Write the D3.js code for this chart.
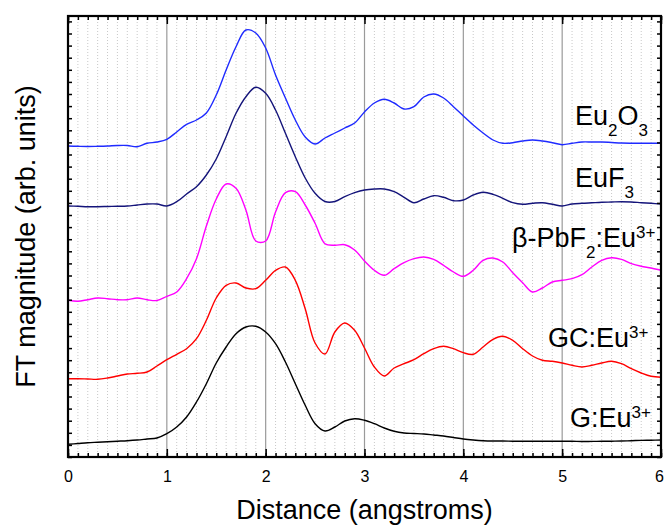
<!DOCTYPE html>
<html>
<head>
<meta charset="utf-8">
<script src="https://cdn.jsdelivr.net/npm/d3@7"></script>
<style>
  html, body { margin: 0; padding: 0; background: #fff; }
  svg { display: block; font-family: "Liberation Sans", Arial, sans-serif; }
</style>
</head>
<body>
<svg id="chart" width="664" height="527"></svg>
<script>
// Distance grid (angstroms)
const distance = [0.0,0.1,0.2,0.3,0.4,0.5,0.6,0.7,0.8,0.9,
  1.0,1.1,1.2,1.3,1.4,1.5,1.6,1.7,1.8,1.9,
  2.0,2.1,2.2,2.3,2.4,2.5,2.6,2.7,2.8,2.9,
  3.0,3.1,3.2,3.3,3.4,3.5,3.6,3.7,3.8,3.9,
  4.0,4.1,4.2,4.3,4.4,4.5,4.6,4.7,4.8,4.9,
  5.0,5.1,5.2,5.3,5.4,5.5,5.6,5.7,5.8,5.9,6.0];

// FT magnitude (arb. units, stacked with offsets as in the figure)
const eu2o3 = [311,310.7,310.5,310.7,311,311.5,311.5,310.3,313.7,315,
  317.7,325,332.7,337,344,362,387,410.3,427,424,
  409,382,359,337,320,313,319,324,329,334,
  345,354,357.7,354,348,350.3,360,363,359,350.3,
  341,332,324,317,313.7,314.3,316,317,316,314.3,
  312.3,313.7,315,315,315,314.5,314,313.8,313.7,313.7,313.7];

const euf3 = [251,250.7,250.3,250.3,250.5,250.7,251,252,253,253,
  251,255.3,263,270.3,282,298,320.3,343.7,360.3,369.7,
  363.7,347,323.7,300.3,279,263.7,255.5,255.5,260.3,264.3,
  267,268,268,265.3,259.7,254.3,258,261.3,259.7,256.3,
  257,262,264.7,262.7,258.7,254.3,252.7,253.7,254.3,252.7,
  251,253,253.7,254.2,254.7,255,255.3,255,254.3,253.7,253];

const pbf2 = [156.7,155.7,157.3,159,158.3,157.3,157.3,159,157.3,156.5,
  160.7,165,178.3,198.3,231,258,273,268.7,247,216,
  216,245,264.3,265.3,252,233.7,213.3,211.7,212.3,207,
  196,186.7,181.7,188.3,194.3,198.3,200,197.7,191.7,185,
  180.7,186.7,196.7,199,195,184.3,174.3,165,169,175,
  176.7,178.3,182.3,190,196.7,199.3,197.7,193.3,190.7,189,186.7];

const gc = [78.3,78.3,78,77.7,79,81,83,83.7,85,91,
  97.3,102.7,108.3,118.3,136.7,159,171.7,174,169,168.3,
  176.7,186.7,190,176.7,148.3,114,103,125,134,126.7,
  109,90,81,89,93.3,97.3,103.3,108.3,110.7,108.3,
  104.3,102.7,110,117.7,120.7,116.7,108.3,101,96.7,95.7,
  94,91.7,90,91.7,94,95.7,93.3,88.3,84,80.7,79.7];

const glass = [12.7,13.5,14.3,14.8,15.3,15.8,16.3,17,18,19,
  23.3,30,40,55,73.3,94,110,123.3,130,130.7,
  125,113.3,95,73.3,51.7,33.3,26,30,36,38.3,
  36.7,33.3,29,25.7,24,23.5,23,22,21,19.5,
  18,17,16.3,16,16,15.8,15.7,15.7,15.7,15.7,
  15.7,15.7,15.5,15.6,15.7,15.8,16,16.3,16.6,16.8,17];

const seriesNames = ["Eu2O3", "EuF3", "β-PbF2:Eu3+", "GC:Eu3+", "G:Eu3+"];
const seriesValues = [eu2o3, euf3, pbf2, gc, glass];
const seriesColors = ["#1f2bff", "#14147a", "#ff00ff", "#ff0000", "#000000"];

const xTicks = [0, 1, 2, 3, 4, 5, 6];
const xTickLabels = ["0", "1", "2", "3", "4", "5", "6"];

// label pieces: [text, kind] kind: n normal, sub, sup
const labelParts = [
  [["Eu","n"],["2","sub"],["O","n"],["3","sub"]],
  [["EuF","n"],["3","sub"]],
  [["β-PbF","n"],["2","sub"],[":Eu","n"],["3+","sup"]],
  [["GC:Eu","n"],["3+","sup"]],
  [["G:Eu","n"],["3+","sup"]]
];
const labelAnchor = [[575, 125], [575, 187], [512, 247], [548, 347], [570, 427]];

// ---------- drawing ----------
const svg = d3.select("#chart");
const pL = 68, pR = 661, pT = 16, pB = 457;

const x = d3.scaleLinear().domain([0, 6]).range([pL, pR]);
const y = d3.scaleLinear().domain([0, 441]).range([pB, pT]);

// gridlines
const minor = d3.range(1, 60).map(i => i / 10).filter(v => Math.abs(v - Math.round(v)) > 1e-6);
svg.append("g").selectAll("line").data(minor).join("line")
  .attr("x1", d => x(d)).attr("x2", d => x(d))
  .attr("y1", pT).attr("y2", pB)
  .attr("stroke", "#c8c8c8").attr("stroke-width", 1)
  .attr("stroke-dasharray", "1,2");
svg.append("g").selectAll("line").data([1,2,3,4,5]).join("line")
  .attr("x1", d => x(d)).attr("x2", d => x(d))
  .attr("y1", pT).attr("y2", pB)
  .attr("stroke", "#9a9a9a").attr("stroke-width", 1.2);

// curves
const line = d3.line()
  .x((d, i) => x(distance[i]))
  .y(d => y(d))
  .curve(d3.curveCatmullRom.alpha(0.5));

seriesValues.forEach((vals, k) => {
  svg.append("path")
    .datum(vals)
    .attr("fill", "none")
    .attr("stroke", seriesColors[k])
    .attr("stroke-width", 1.4)
    .attr("d", line);
});

// axes (ticks inward)
const xMinorTicks = d3.range(0, 61).map(i => i / 10);
const yTickVals = d3.range(0, 441, 12.1);

const bottomAxis = d3.axisBottom(x).tickValues(xTicks).tickSize(-8).tickPadding(14)
  .tickFormat((d, i) => xTickLabels[i]);
const gB = svg.append("g").attr("transform", `translate(0,${pB})`).call(bottomAxis);
const gBm = svg.append("g").attr("transform", `translate(0,${pB})`)
  .call(d3.axisBottom(x).tickValues(xMinorTicks).tickSize(-4).tickFormat(""));
const gT = svg.append("g").attr("transform", `translate(0,${pT})`)
  .call(d3.axisTop(x).tickValues(xTicks).tickSize(-8).tickFormat(""));
const gTm = svg.append("g").attr("transform", `translate(0,${pT})`)
  .call(d3.axisTop(x).tickValues(xMinorTicks).tickSize(-4).tickFormat(""));
const gL = svg.append("g").attr("transform", `translate(${pL},0)`)
  .call(d3.axisLeft(y).tickValues(yTickVals).tickSize(-4).tickFormat(""));
const gR = svg.append("g").attr("transform", `translate(${pR},0)`)
  .call(d3.axisRight(y).tickValues(yTickVals).tickSize(-4).tickFormat(""));

[gB, gBm, gT, gTm, gL, gR].forEach(g => {
  g.select(".domain").remove();
  g.selectAll(".tick line").attr("stroke", "#000").attr("stroke-width", 1.5);
});
gB.selectAll(".tick text").attr("font-size", 16).attr("fill", "#000")
  .attr("font-family", "Liberation Sans, Arial, sans-serif");
// keep the last label inside the page
gB.selectAll(".tick text").filter(d => d === 6).attr("dx", -2);

// frame
svg.append("rect").attr("x", pL).attr("y", pT)
  .attr("width", pR - pL).attr("height", pB - pT)
  .attr("fill", "none").attr("stroke", "#000").attr("stroke-width", 2.2);

// titles
svg.append("text")
  .attr("x", (pL + pR) / 2).attr("y", 519)
  .attr("text-anchor", "middle").attr("font-size", 27).attr("fill", "#000")
  .text("Distance (angstroms)");
svg.append("text")
  .attr("transform", `translate(35,${(pT + pB) / 2}) rotate(-90)`)
  .attr("text-anchor", "middle").attr("font-size", 27).attr("fill", "#000")
  .text("FT magnitude (arb. units)");

// series labels
labelParts.forEach((parts, k) => {
  const t = svg.append("text")
    .attr("x", labelAnchor[k][0]).attr("y", labelAnchor[k][1])
    .attr("font-size", 27).attr("fill", "#000");
  let shift = 0;
  parts.forEach(([txt, kind]) => {
    const target = kind === "sub" ? 11 : kind === "sup" ? -9 : 0;
    t.append("tspan")
      .attr("dy", target - shift)
      .attr("font-size", kind === "n" ? 27 : 17)
      .text(txt);
    shift = target;
  });
});
</script>
</body>
</html>
